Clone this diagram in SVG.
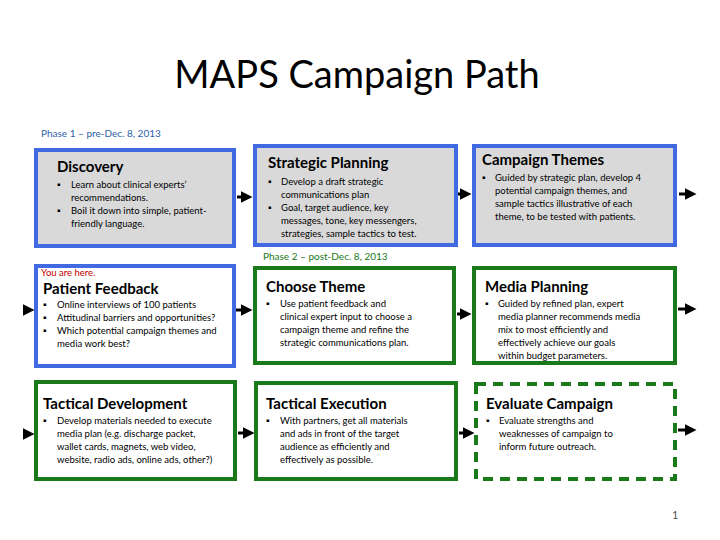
<svg xmlns="http://www.w3.org/2000/svg" width="720" height="540" viewBox="0 0 720 540">
<style>
text{font-family:"Lato","Noto Sans","Liberation Sans",sans-serif;fill:#000}
.b{fill:#d9d9d9;stroke:#4169e1;stroke-width:4}
.g{fill:#fff;stroke:#1a7a1a;stroke-width:4}
.bw{fill:#fff;stroke:#4169e1;stroke-width:4}
.h{font-size:15px;font-weight:bold}
.t{font-size:9.5px}
.a{stroke:#000;stroke-width:3;fill:none;marker-end:url(#ah)}
</style>
<defs><marker id="ah" markerWidth="4" markerHeight="4" refX="2.5" refY="2" orient="auto" markerUnits="strokeWidth"><path d="M0,0L4,2L0,4z" fill="#000"/></marker></defs>
<rect width="720" height="540" fill="#fff"/>
<text x="357" y="88" text-anchor="middle" font-size="38">MAPS Campaign Path</text>
<text x="41" y="137" font-size="10" style="fill:#2e62a8">Phase 1 – pre-Dec. 8, 2013</text>
<text x="263" y="260" font-size="10" style="fill:#1a7a1a">Phase 2 – post-Dec. 8, 2013</text>
<g id="discovery"><rect class="b" x="36" y="150" width="198" height="96"/>
<text class="h" x="57" y="172">Discovery</text>
<text class="t" x="57" y="188">▪<tspan x="71">Learn about clinical experts’</tspan><tspan x="71" dy="13">recommendations.</tspan></text>
<text class="t" x="57" y="214">▪<tspan x="71">Boil it down into simple, patient-</tspan><tspan x="71" dy="13">friendly language.</tspan></text></g>
<g id="strategic"><rect class="b" x="255" y="146" width="201" height="99"/>
<text class="h" x="268" y="168">Strategic Planning</text>
<text class="t" x="268" y="185">▪<tspan x="281">Develop a draft strategic</tspan><tspan x="281" dy="13">communications plan</tspan></text>
<text class="t" x="268" y="211">▪<tspan x="281">Goal, target audience, key</tspan><tspan x="281" dy="13">messages, tone, key messengers,</tspan><tspan x="281" dy="13">strategies, sample  tactics to test.</tspan></text></g>
<g id="themes"><rect class="b" x="474" y="146" width="201" height="99"/>
<text class="h" x="482" y="165">Campaign Themes</text>
<text class="t" x="482" y="181">▪<tspan x="495">Guided by strategic plan, develop 4</tspan><tspan x="495" dy="13">potential campaign themes, and</tspan><tspan x="495" dy="13">sample tactics illustrative of each</tspan><tspan x="495" dy="13">theme, to be tested with patients.</tspan></text></g>
<g id="feedback"><rect class="bw" x="36" y="266" width="198" height="100"/>
<text x="41" y="276" font-size="9.5" style="fill:#c00000">You are here.</text>
<text class="h" x="43" y="294">Patient Feedback</text>
<text class="t" x="43" y="308">▪<tspan x="57">Online interviews of 100 patients</tspan></text>
<text class="t" x="43" y="321">▪<tspan x="57">Attitudinal barriers and opportunities?</tspan></text>
<text class="t" x="43" y="334">▪<tspan x="57">Which potential campaign themes and</tspan><tspan x="57" dy="13">media work best?</tspan></text></g>
<g id="choose"><rect class="g" x="255" y="268" width="199" height="95"/>
<text class="h" x="266" y="292">Choose Theme</text>
<text class="t" x="266" y="307">▪<tspan x="280">Use patient feedback and</tspan><tspan x="280" dy="13">clinical expert input to choose a</tspan><tspan x="280" dy="13">campaign theme and refine the</tspan><tspan x="280" dy="13">strategic communications plan.</tspan></text></g>
<g id="media"><rect class="g" x="474" y="268" width="201" height="95"/>
<text class="h" x="485" y="292">Media Planning</text>
<text class="t" x="485" y="307">▪<tspan x="498">Guided by refined plan, expert</tspan><tspan x="498" dy="13">media planner recommends media</tspan><tspan x="498" dy="13">mix to most efficiently and</tspan><tspan x="498" dy="13">effectively achieve our goals</tspan><tspan x="498" dy="13">within budget parameters.</tspan></text></g>
<g id="tacdev"><rect class="g" x="36" y="382" width="199" height="97"/>
<text class="h" x="43" y="409">Tactical Development</text>
<text class="t" x="43" y="424">▪<tspan x="57">Develop materials needed to execute</tspan><tspan x="57" dy="13">media plan (e.g. discharge packet,</tspan><tspan x="57" dy="13">wallet cards, magnets, web video,</tspan><tspan x="57" dy="13">website, radio ads, online ads, other?)</tspan></text></g>
<g id="tacexec"><rect class="g" x="256" y="383" width="200" height="96"/>
<text class="h" x="266" y="409">Tactical Execution</text>
<text class="t" x="266" y="424">▪<tspan x="280">With partners, get all materials</tspan><tspan x="280" dy="13">and ads in front of the target</tspan><tspan x="280" dy="13">audience as efficiently and</tspan><tspan x="280" dy="13">effectively as possible.</tspan></text></g>
<g id="evaluate"><rect x="476" y="384" width="199" height="95" fill="#fff" stroke="#1a7a1a" stroke-width="4" stroke-dasharray="10,7"/>
<text class="h" x="486" y="409">Evaluate Campaign</text>
<text class="t" x="486" y="424">▪<tspan x="499">Evaluate strengths and</tspan><tspan x="499" dy="13">weaknesses of campaign to</tspan><tspan x="499" dy="13">inform future outreach.</tspan></text></g>
<text x="672" y="519" font-size="11" style="fill:#555">1</text>
<g id="connectors">
<path class="a" d="M237,197H248"/>
<path class="a" d="M458,194H467"/>
<path class="a" d="M679,194H692"/>
<path class="a" d="M27,310H30"/>
<path class="a" d="M236,310H248"/>
<path class="a" d="M457,314H467"/>
<path class="a" d="M678,309H692"/>
<path class="a" d="M28,434H30"/>
<path class="a" d="M238,433H250"/>
<path class="a" d="M459,433H470"/>
<path class="a" d="M678,430H692"/>
</g>
</svg>
